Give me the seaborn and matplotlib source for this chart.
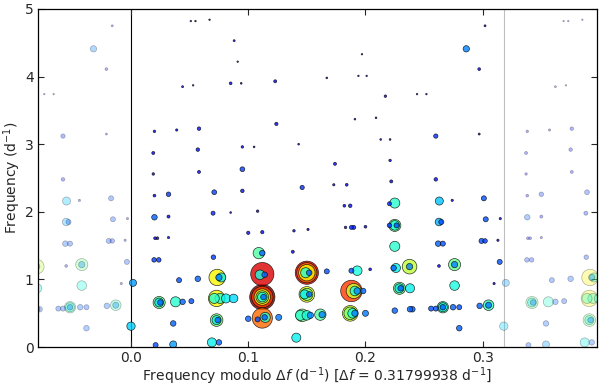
import numpy as np
import pandas as pd
import matplotlib
matplotlib.use('Agg')
import matplotlib.pyplot as plt
import seaborn as sns

# --- data: frequency modulo delta f, frequency, relative amplitude ---
delta_f = 0.31799938

freq_mod = [
    0.051, 0.055, 0.067, 0.088, 0.091, 0.044, 0.053, 0.085, 0.094, 0.123,
    0.020, 0.039, 0.058, 0.124, 0.095, 0.105, 0.143, 0.019, 0.057, 0.019,
    0.058, 0.095, 0.020, 0.032, 0.071, 0.095, 0.302, 0.286, 0.297, 0.197,
    0.167, 0.194, 0.201, 0.217, 0.244, 0.252, 0.191, 0.209, 0.260, 0.297,
    0.213, 0.221, 0.174, 0.221, 0.146, 0.173, 0.184, 0.222, 0.260,
    # middle
    0.020, 0.032, 0.070, 0.0205, 0.0225, 0.032, 0.085, 0.108, 0.100, 0.112,
    0.139, 0.151, 0.182, 0.187, 0.2205, 0.225, 0.183, 0.188, 0.190, 0.200,
    0.2205, 0.225, 0.225, 0.2265, 0.225, 0.263, 0.274, 0.301, 0.2627, 0.2647,
    0.3026, 0.315, 0.262, 0.266, 0.299, 0.302, 0.313,
    # bottom
    0.0197, 0.0237, 0.0703, 0.0017, 0.041, 0.057, 0.0735, 0.077, 0.075,
    0.024, 0.024, 0.025, 0.038, 0.044, 0.0515,
    0.073, 0.071, 0.076, 0.081, 0.0875,
    0.000, 0.036, 0.073, 0.073, 0.074, 0.021, 0.036, 0.069, 0.075,
    0.109, 0.112, 0.138,
    0.112, 0.110, 0.114,
    0.150, 0.150, 0.150, 0.149, 0.152,
    0.112, 0.112, 0.112, 0.112, 0.112, 0.113,
    0.150, 0.150, 0.148, 0.152,
    0.112, 0.1145, 0.114, 0.108, 0.100, 0.126,
    0.1445, 0.146, 0.150, 0.153, 0.1615, 0.163,
    0.141, 0.167, 0.188, 0.193, 0.204, 0.224, 0.226, 0.2376, 0.2376,
    0.188, 0.190, 0.191, 0.193, 0.198,
    0.229, 0.229, 0.230, 0.238,
    0.187, 0.187, 0.189, 0.191, 0.200,
    0.225, 0.238, 0.240, 0.2627, 0.276, 0.276, 0.3145, 0.276, 0.3097,
    0.256, 0.260, 0.266, 0.266, 0.266, 0.2747, 0.280,
    0.2974, 0.305, 0.305, 0.280,
]

freq = [
    4.82, 4.82, 4.84, 4.53, 4.22, 3.85, 3.87, 3.90, 3.90, 3.93,
    3.19, 3.21, 3.23, 3.30, 2.96, 2.96, 3.00, 2.87, 2.92, 2.56,
    2.59, 2.63, 2.24, 2.26, 2.29, 2.31, 4.75, 4.41, 4.11, 4.33,
    3.98, 4.01, 4.01, 3.71, 3.74, 3.74, 3.37, 3.39, 3.12, 3.15,
    3.07, 3.07, 2.71, 2.76, 2.36, 2.40, 2.40, 2.45, 2.48,
    # middle
    1.92, 1.93, 1.98, 1.61, 1.61, 1.62, 1.99, 2.01, 1.69, 1.70,
    1.72, 1.74, 2.09, 2.09, 2.12, 2.13, 1.77, 1.77, 1.77, 1.78,
    1.80, 1.80, 1.80, 1.80, 1.49, 2.16, 2.17, 2.20, 1.85, 1.85,
    1.89, 1.90, 1.53, 1.53, 1.57, 1.57, 1.58,
    # bottom
    1.29, 1.29, 1.33, 0.95, 0.99, 1.01, 1.03, 1.03, 1.03,
    0.66, 0.66, 0.66, 0.67, 0.67, 0.68,
    0.72, 0.72, 0.72, 0.72, 0.72,
    0.31, 0.35, 0.40, 0.40, 0.40, 0.03, 0.04, 0.07, 0.07,
    1.39, 1.39, 1.41,
    1.08, 1.07, 1.07,
    1.10, 1.10, 1.10, 1.10, 1.10,
    0.74, 0.74, 0.74, 0.74, 0.74, 0.74,
    0.78, 0.78, 0.78, 0.78,
    0.43, 0.44, 0.44, 0.41, 0.42, 0.44,
    0.47, 0.47, 0.47, 0.47, 0.48, 0.48,
    0.14, 1.12, 1.13, 1.13, 1.15, 1.17, 1.17, 1.19, 1.19,
    0.83, 0.83, 0.83, 0.83, 0.83,
    0.87, 0.87, 0.87, 0.87,
    0.50, 0.50, 0.50, 0.50, 0.50,
    0.54, 0.56, 0.56, 1.20, 1.22, 1.22, 1.26, 0.91, 0.94,
    0.57, 0.57, 0.59, 0.59, 0.59, 0.59, 0.59,
    0.61, 0.62, 0.62, 0.28,
]

amp = [
    0.06, 0.06, 0.06, 0.08, 0.06, 0.08, 0.06, 0.11, 0.07, 0.12,
    0.10, 0.09, 0.14, 0.13, 0.10, 0.07, 0.07, 0.12, 0.14, 0.10,
    0.12, 0.19, 0.11, 0.18, 0.19, 0.14, 0.08, 0.25, 0.11, 0.06,
    0.07, 0.06, 0.06, 0.10, 0.06, 0.06, 0.07, 0.07, 0.17, 0.08,
    0.07, 0.07, 0.12, 0.10, 0.17, 0.09, 0.11, 0.12, 0.14,
    # middle
    0.22, 0.12, 0.16, 0.11, 0.11, 0.09, 0.07, 0.10, 0.13, 0.13,
    0.10, 0.09, 0.11, 0.14, 0.16, 0.40, 0.10, 0.16, 0.16, 0.11,
    0.18, 0.48, 0.38, 0.20, 0.40, 0.32, 0.09, 0.20, 0.30, 0.20,
    0.20, 0.09, 0.22, 0.20, 0.20, 0.18, 0.09,
    # bottom
    0.18, 0.18, 0.18, 0.28, 0.20, 0.22, 0.65, 0.36, 0.25,
    0.48, 0.35, 0.22, 0.40, 0.22, 0.20,
    0.65, 0.40, 0.40, 0.36, 0.34,
    0.33, 0.22, 0.50, 0.36, 0.22, 0.20, 0.28, 0.36, 0.22,
    0.45, 0.22, 0.12,
    0.92, 0.38, 0.22,
    0.92, 0.80, 0.65, 0.40, 0.22,
    1.00, 0.85, 0.65, 0.50, 0.38, 0.22,
    0.62, 0.48, 0.36, 0.22,
    0.80, 0.40, 0.22, 0.20, 0.22, 0.24,
    0.40, 0.50, 0.38, 0.25, 0.45, 0.25,
    0.36, 0.20, 0.20, 0.38, 0.11, 0.22, 0.36, 0.58, 0.25,
    0.85, 0.60, 0.38, 0.26, 0.22,
    0.48, 0.36, 0.22, 0.36,
    0.62, 0.50, 0.38, 0.25, 0.24,
    0.22, 0.22, 0.22, 0.11, 0.48, 0.25, 0.20, 0.38, 0.09,
    0.20, 0.20, 0.45, 0.36, 0.22, 0.22, 0.20,
    0.22, 0.42, 0.24, 0.22,
]

x_ticks = [0.0, 0.1, 0.2, 0.3]
y_ticks = [0, 1, 2, 3, 4, 5]

df = pd.DataFrame({'fmod': freq_mod, 'freq': freq, 'amp': amp})
df['area'] = 330 * df['amp'] ** 2
df = df.sort_values('amp', ascending=False)

# wrapped copies shown faded outside one period
left = df[df['fmod'] >= delta_f - 0.09].copy()
left['fmod'] = left['fmod'] - delta_f
right = df[df['fmod'] < 0.09].copy()
right['fmod'] = right['fmod'] + delta_f
faded = pd.concat([left, right]).sort_values('amp', ascending=False)

sns.set_style('ticks')
plt.rcParams['font.family'] = ['DejaVu Sans']

fig = plt.figure(figsize=(6, 3.87), dpi=100)
ax = fig.add_axes([0.063, 0.103, 0.932, 0.874])

jet = plt.get_cmap('jet')
amin, amax = df['area'].min(), df['area'].max()
common = dict(x='fmod', y='freq', hue='amp', palette=jet, hue_norm=(0, 1),
              size='area', sizes=(amin, amax), size_norm=(amin, amax),
              edgecolor='k', linewidth=0.5, legend=False, ax=ax)
sns.scatterplot(data=faded, alpha=0.3, **common)
sns.scatterplot(data=df, alpha=0.8, **common)

ax.axvline(0, color='k', lw=0.8, zorder=0)
ax.axvline(delta_f, color='0.75', lw=0.8, zorder=0)

ax.set_xlim(-0.25 * delta_f, 1.25 * delta_f)
ax.set_ylim(0, 5)
ax.set_xticks(x_ticks)
ax.set_xticklabels(['0.0', '0.1', '0.2', '0.3'])
ax.set_yticks(y_ticks)
ax.tick_params(direction='in', top=True, right=True, length=4, width=0.8, labelsize=10, pad=3)
for sp in ax.spines.values():
    sp.set_linewidth(0.9)
    sp.set_color('k')

ax.set_xlabel(r'Frequency modulo $\Delta f$ (d$^{-1}$) [$\Delta f$ = 0.31799938 d$^{-1}$]', fontsize=10, labelpad=0)
ax.set_ylabel(r'Frequency (d$^{-1}$)', fontsize=10, labelpad=1)

fig.savefig('out.png', dpi=100)
